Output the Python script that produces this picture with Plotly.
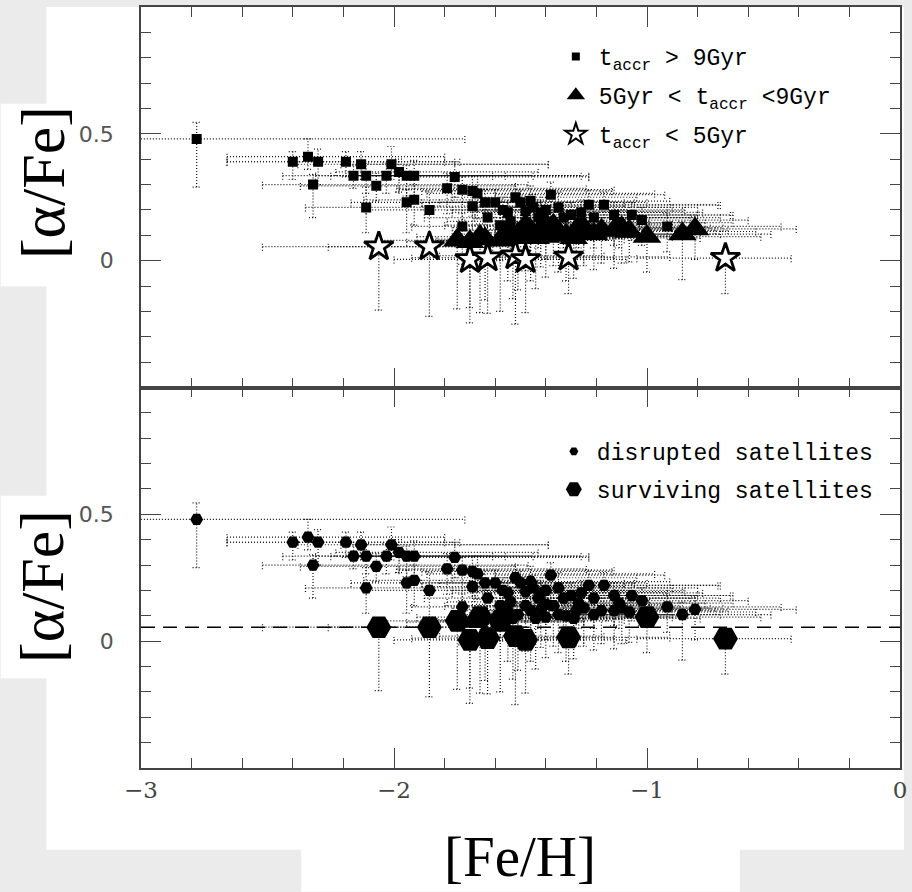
import plotly.graph_objects as go

# ---------------- data ----------------
# t_accr > 9 Gyr  (squares)
SQ_FEH = [-2.78, -2.40, -2.34, -2.30, -2.32, -2.19, -2.13, -2.16, -2.11, -2.07, -2.11, -2.03, -2.01,
          -1.98, -1.95, -1.92, -1.95, -1.92, -1.86, -1.79, -1.76, -1.73, -1.69, -1.69, -1.64, -1.67,
          -1.60, -1.63, -1.73, -1.54, -1.48, -1.43, -1.38, -1.35, -1.30, -1.23, -1.17, -1.13, -1.06,
          -0.92, -1.27, -1.57, -1.50, -1.45, -1.55, -1.52, -1.46, -1.42, -1.33, -1.26, -1.21, -1.11,
          -1.02, -1.58, -1.40]
SQ_AFE = [0.48, 0.39, 0.41, 0.39, 0.30, 0.39, 0.38, 0.335, 0.335, 0.295, 0.21, 0.335, 0.38,
          0.35, 0.335, 0.335, 0.23, 0.24, 0.20, 0.285, 0.33, 0.28, 0.275, 0.215, 0.23, 0.265,
          0.23, 0.17, 0.135, 0.155, 0.195, 0.17, 0.26, 0.21, 0.18, 0.22, 0.22, 0.18, 0.18,
          0.135, 0.15, 0.20, 0.23, 0.21, 0.19, 0.25, 0.235, 0.19, 0.17, 0.19, 0.17, 0.15,
          0.16, 0.14, 0.20]
SQ_XLO = [0.60, 0.26, 0.32, 0.36, 0.20, 0.22, 0.25, 0.28, 0.20, 0.30, 0.24, 0.22, 0.20,
          0.25, 0.20, 0.25, 0.22, 0.20, 0.25, 0.20, 0.22, 0.25, 0.20, 0.20, 0.25, 0.20,
          0.22, 0.25, 0.20, 0.25, 0.20, 0.25, 0.22, 0.20, 0.25, 0.20, 0.25, 0.20, 0.22,
          0.20, 0.25, 0.20, 0.20, 0.22, 0.22, 0.25, 0.20, 0.22, 0.25, 0.20, 0.22, 0.20,
          0.20, 0.22, 0.25]
SQ_XHI = [1.06, 0.64, 0.54, 0.50, 0.85, 0.45, 0.74, 0.60, 0.50, 0.55, 0.68, 0.80, 0.62,
          0.55, 0.50, 0.66, 0.45, 0.50, 0.60, 0.55, 0.53, 0.60, 0.55, 0.60, 0.55, 0.70,
          0.55, 0.60, 0.50, 0.55, 0.62, 0.60, 0.45, 0.55, 0.50, 0.52, 0.45, 0.46, 0.40,
          0.45, 0.50, 0.50, 0.50, 0.55, 0.50, 0.48, 0.55, 0.50, 0.52, 0.48, 0.50, 0.45,
          0.42, 0.50, 0.55]
SQ_YLO = [0.19, 0.07, 0.05, 0.09, 0.13, 0.06, 0.06, 0.05, 0.07, 0.06, 0.10, 0.07, 0.06,
          0.08, 0.08, 0.08, 0.12, 0.10, 0.12, 0.10, 0.08, 0.12, 0.10, 0.12, 0.10, 0.10,
          0.12, 0.15, 0.15, 0.12, 0.12, 0.12, 0.10, 0.10, 0.10, 0.10, 0.10, 0.12, 0.10,
          0.10, 0.10, 0.10, 0.10, 0.10, 0.12, 0.10, 0.12, 0.10, 0.12, 0.10, 0.12, 0.10,
          0.10, 0.14, 0.12]
SQ_YHI = [0.065, 0.04, 0.07, 0.05, 0.04, 0.04, 0.05, 0.04, 0.05, 0.05, 0.08, 0.05, 0.07,
          0.05, 0.04, 0.06, 0.05, 0.06, 0.07, 0.06, 0.06, 0.05, 0.06, 0.06, 0.05, 0.07,
          0.05, 0.06, 0.05, 0.06, 0.06, 0.06, 0.05, 0.06, 0.05, 0.06, 0.05, 0.05, 0.05,
          0.05, 0.05, 0.05, 0.05, 0.05, 0.06, 0.05, 0.06, 0.05, 0.06, 0.05, 0.06, 0.05,
          0.05, 0.06, 0.05]

# 5 Gyr < t_accr < 9 Gyr  (triangles)
TRI_FEH = [-1.75, -1.70, -1.66, -1.58, -1.64, -1.51, -1.46, -1.40, -1.32, -1.40, -1.35,
           -1.21, -1.13, -1.07, -1.00, -0.86, -0.81, -1.55, -1.48, -1.42, -1.37, -1.28,
           -1.25, -1.18, -1.10, -1.53, -1.44, -1.29]
TRI_AFE = [0.08, 0.075, 0.095, 0.08, 0.085, 0.105, 0.12, 0.095, 0.10, 0.145, 0.105,
           0.105, 0.12, 0.115, 0.095, 0.105, 0.125, 0.12, 0.14, 0.125, 0.14, 0.12,
           0.13, 0.12, 0.13, 0.09, 0.09, 0.09]
TRI_XLO = [0.30, 0.25, 0.25, 0.25, 0.22, 0.25, 0.20, 0.25, 0.22, 0.20, 0.25,
           0.22, 0.20, 0.25, 0.22, 0.20, 0.22, 0.22, 0.25, 0.20, 0.22, 0.25,
           0.20, 0.22, 0.25, 0.20, 0.22, 0.25]
TRI_XHI = [0.50, 0.45, 0.50, 0.45, 0.55, 0.50, 0.45, 0.50, 0.45, 0.50, 0.45,
           0.50, 0.45, 0.50, 0.45, 0.35, 0.40, 0.50, 0.45, 0.55, 0.50, 0.45,
           0.50, 0.45, 0.40, 0.50, 0.45, 0.50]
TRI_YLO = [0.27, 0.26, 0.30, 0.28, 0.24, 0.22, 0.20, 0.16, 0.18, 0.14, 0.15,
           0.14, 0.15, 0.12, 0.14, 0.18, 0.12, 0.20, 0.18, 0.15, 0.16, 0.14,
           0.15, 0.13, 0.14, 0.24, 0.20, 0.16]
TRI_YHI = [0.05] * 28
TRI_SURVIVING = [True, False, True, True, False, False, False, False, False, False, False,
                 False, False, False, True, False, False, False, False, False, False, False,
                 False, False, False, False, False, False]

# t_accr < 5 Gyr  (stars) -- all surviving satellites
ST_FEH = [-2.06, -1.86, -1.70, -1.63, -1.52, -1.48, -1.31, -0.69]
ST_AFE = [0.055, 0.055, 0.005, 0.012, 0.02, 0.005, 0.015, 0.01]
ST_XLO = [0.46, 0.40, 0.30, 0.30, 0.30, 0.20, 0.30, 0.35]
ST_XHI = [0.45, 0.40, 0.45, 0.50, 0.35, 0.40, 0.40, 0.26]
ST_YLO = [0.25, 0.275, 0.25, 0.22, 0.27, 0.21, 0.145, 0.14]
ST_YHI = [0.03, 0.03, 0.04, 0.04, 0.05, 0.03, 0.03, 0.03]

DASH_LEVEL = 0.055

LEG_TOP = ["t<sub>accr</sub> > 9Gyr", "5Gyr < t<sub>accr</sub> <9Gyr", "t<sub>accr</sub> < 5Gyr"]
LEG_BOT = ["disrupted satellites", "surviving satellites"]
X_TICKS = [-3, -2, -1, 0]
X_TICKTEXT = ["\u22123", "\u22122", "\u22121", "0"]
Y_TICKS = [0, 0.5]
Y_TICKTEXT = ["0", "0.5"]

# ---------------- helpers ----------------
CAPX = 0.016   # half cap length in x units
CAPY = 0.016   # half cap length in y units


def err_segments(xs, ys, xlo, xhi, ylo, yhi):
    px, py = [], []
    for x, y, a, b, c, d in zip(xs, ys, xlo, xhi, ylo, yhi):
        px += [x - a, x + b, None]
        py += [y, y, None]
        px += [x, x, None]
        py += [y - c, y + d, None]
        for xe in (x - a, x + b):
            px += [xe, xe, None]
            py += [y - CAPY, y + CAPY, None]
        for ye in (y - c, y + d):
            px += [x - CAPX, x + CAPX, None]
            py += [ye, ye, None]
    return px, py


all_feh = SQ_FEH + TRI_FEH + ST_FEH
all_afe = SQ_AFE + TRI_AFE + ST_AFE
all_xlo = SQ_XLO + TRI_XLO + ST_XLO
all_xhi = SQ_XHI + TRI_XHI + ST_XHI
all_ylo = SQ_YLO + TRI_YLO + ST_YLO
all_yhi = SQ_YHI + TRI_YHI + ST_YHI
ex, ey = err_segments(all_feh, all_afe, all_xlo, all_xhi, all_ylo, all_yhi)

dot_line = dict(color="#111111", width=1.2, dash="1px,2px")

fig = go.Figure()

for xa, ya in (("x", "y"), ("x2", "y2")):
    fig.add_trace(go.Scatter(x=ex, y=ey, mode="lines", line=dot_line, xaxis=xa, yaxis=ya,
                             showlegend=False, hoverinfo="skip"))

# ---- top panel ----
fig.add_trace(go.Scatter(x=SQ_FEH, y=SQ_AFE, mode="markers", xaxis="x", yaxis="y",
                         marker=dict(symbol="square", size=10, color="black"), showlegend=False))
fig.add_trace(go.Scatter(x=TRI_FEH, y=TRI_AFE, mode="markers", xaxis="x", yaxis="y",
                         marker=dict(symbol="triangle-up", size=25, color="black"), showlegend=False))
fig.add_trace(go.Scatter(x=ST_FEH, y=ST_AFE, mode="markers", xaxis="x", yaxis="y",
                         marker=dict(symbol="star", size=22, color="white",
                                     line=dict(color="black", width=2.8)), showlegend=False))

# ---- bottom panel ----
dis_x = SQ_FEH + [x for x, s in zip(TRI_FEH, TRI_SURVIVING) if not s]
dis_y = SQ_AFE + [y for y, s in zip(TRI_AFE, TRI_SURVIVING) if not s]
sur_x = [x for x, s in zip(TRI_FEH, TRI_SURVIVING) if s] + ST_FEH
sur_y = [y for y, s in zip(TRI_AFE, TRI_SURVIVING) if s] + ST_AFE
fig.add_trace(go.Scatter(x=dis_x, y=dis_y, mode="markers", xaxis="x2", yaxis="y2",
                         marker=dict(symbol="hexagon2", size=13, color="black"), showlegend=False))
fig.add_trace(go.Scatter(x=sur_x, y=sur_y, mode="markers", xaxis="x2", yaxis="y2",
                         marker=dict(symbol="hexagon2", size=25, color="black"), showlegend=False))

# ---- legend-only entries ----
leg_syms_top = [dict(symbol="square", size=8, color="black"),
                dict(symbol="triangle-up", size=16, color="black"),
                dict(symbol="star", size=16, color="white", line=dict(color="black", width=2))]
for i, (name, m) in enumerate(zip(LEG_TOP, leg_syms_top)):
    fig.add_trace(go.Scatter(x=[None], y=[None], mode="markers", name=name, marker=m,
                             xaxis="x", yaxis="y", legend="legend", legendgroup="t%d" % i))
leg_syms_bot = [dict(symbol="hexagon2", size=9, color="black"),
                dict(symbol="hexagon2", size=16, color="black")]
for i, (name, m) in enumerate(zip(LEG_BOT, leg_syms_bot)):
    fig.add_trace(go.Scatter(x=[None], y=[None], mode="markers", name=name, marker=m,
                             xaxis="x2", yaxis="y2", legend="legend2", legendgroup="b%d" % i))

# ---------------- layout ----------------
W, H = 912, 892
ML, MR, MT, MB = 141, 8, 5, 124
PW, PH = W - ML - MR, H - MT - MB


def px2paper_x(px):
    return (px - ML) / PW


def px2paper_y(py):
    return (H - MB - py) / PH


axis_common = dict(
    range=[-3, 0], showgrid=False, zeroline=False, showline=True, linecolor="#444",
    linewidth=1.5, mirror="allticks", ticks="inside", ticklen=20, tickwidth=1.3,
    tickcolor="#444", tickmode="array", tickvals=X_TICKS, ticktext=X_TICKTEXT,
    minor=dict(dtick=0.2, tick0=0, ticks="inside", ticklen=10, tickwidth=1.3, tickcolor="#444"),
)
yaxis_common = dict(
    range=[-0.5, 1.0], showgrid=False, zeroline=False, showline=True, linecolor="#444",
    linewidth=1.5, mirror="allticks", ticks="inside", ticklen=20, tickwidth=1.3,
    tickcolor="#444", tickmode="array", tickvals=Y_TICKS, ticktext=Y_TICKTEXT,
    tickfont=dict(family="DejaVu Sans", size=22, color="#555"), ticklabelstandoff=21,
    minor=dict(dtick=0.1, tick0=0, ticks="inside", ticklen=10, tickwidth=1.3, tickcolor="#444"),
)

WHITE = dict(type="rect", xref="paper", yref="paper", layer="below", line=dict(width=0),
             fillcolor="white")
layout_shapes = [
    dict(WHITE, x0=px2paper_x(46), x1=px2paper_x(908), y0=px2paper_y(850), y1=px2paper_y(5)),
    dict(WHITE, x0=px2paper_x(0), x1=px2paper_x(47), y0=px2paper_y(285), y1=px2paper_y(102)),
    dict(WHITE, x0=px2paper_x(0), x1=px2paper_x(47), y0=px2paper_y(678), y1=px2paper_y(495)),
    dict(WHITE, x0=px2paper_x(302), x1=px2paper_x(743), y0=px2paper_y(892), y1=px2paper_y(849)),
    dict(type="line", xref="x2 domain", yref="y2", layer="below", x0=0, x1=1,
         y0=DASH_LEVEL, y1=DASH_LEVEL, line=dict(color="black", width=1.6, dash="14px,8px")),
]

TITLE_FONT = dict(family="Liberation Serif", size=62, color="black")
annotations = [
    dict(text="[\u03b1/Fe]", xref="paper", yref="paper", x=px2paper_x(42), y=px2paper_y(181),
         textangle=-90, showarrow=False, font=TITLE_FONT, xanchor="center", yanchor="middle"),
    dict(text="[\u03b1/Fe]", xref="paper", yref="paper", x=px2paper_x(42), y=px2paper_y(586),
         textangle=-90, showarrow=False, font=TITLE_FONT, xanchor="center", yanchor="middle"),
    dict(text="[Fe/H]", xref="paper", yref="paper", x=px2paper_x(522), y=px2paper_y(857),
         showarrow=False, font=dict(family="Liberation Serif", size=57, color="black"),
         xanchor="center", yanchor="middle"),
]

legend_font = dict(family="Liberation Mono", size=23, color="black")

fig.update_layout(
    width=W, height=H, margin=dict(l=ML, r=MR, t=MT, b=MB),
    paper_bgcolor="#ebebeb", plot_bgcolor="rgba(0,0,0,0)",
    xaxis=dict(axis_common, domain=[0, 1], anchor="y", showticklabels=False, matches="x2"),
    xaxis2=dict(axis_common, domain=[0, 1], anchor="y2", showticklabels=True,
                tickfont=dict(family="DejaVu Serif", size=23, color="#444"), ticklabelstandoff=1),
    yaxis=dict(yaxis_common, domain=[0.5, 1.0], anchor="x"),
    yaxis2=dict(yaxis_common, domain=[0.0, 0.5], anchor="x2"),
    shapes=layout_shapes,
    annotations=annotations,
    showlegend=True,
    legend=dict(x=px2paper_x(555), y=px2paper_y(33), xanchor="left", yanchor="top",
                bgcolor="rgba(0,0,0,0)", font=legend_font, itemwidth=36, tracegroupgap=6,
                itemsizing="trace"),
    legend2=dict(x=px2paper_x(553), y=px2paper_y(429), xanchor="left", yanchor="top",
                 bgcolor="rgba(0,0,0,0)", font=legend_font, itemwidth=36, tracegroupgap=5,
                 itemsizing="trace"),
)

fig.write_html("out.html", config={"displayModeBar": False},
               post_script="document.body.style.margin='0px';")
